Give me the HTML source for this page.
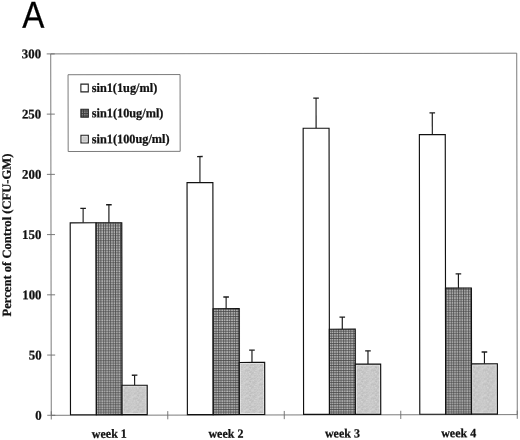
<!DOCTYPE html>
<html><head><meta charset="utf-8"><title>Figure A</title>
<style>
html,body{margin:0;padding:0;background:#fff;}
body{width:520px;height:440px;overflow:hidden;font-family:"Liberation Serif",serif;}
svg{display:block;will-change:transform;}
text{font-family:"Liberation Serif",serif;font-weight:bold;fill:#111;stroke:#111;stroke-width:0.25px;}
.sans{font-family:"Liberation Sans",sans-serif;font-weight:normal;fill:#000;stroke:#000;}
</style></head><body>
<svg width="520" height="440" viewBox="0 0 520 440">
<defs>
<filter id="soft" x="0" y="0" width="1" height="1"><feGaussianBlur stdDeviation="0.5"/></filter>
<pattern id="hatch" width="2.45" height="2.45" patternUnits="userSpaceOnUse">
<rect width="2.45" height="2.45" fill="#c6c6c6"/>
<rect width="0.9" height="2.45" fill="#484848"/>
<rect width="2.45" height="0.9" fill="#484848"/>
</pattern>
<pattern id="stip" width="14" height="14" patternUnits="userSpaceOnUse">
<rect width="14" height="14" fill="#c8c8c8"/>
<rect x="0" y="0" width="1" height="1" fill="#c0c0c0"/>
<rect x="0" y="1" width="1" height="1" fill="#cacaca"/>
<rect x="0" y="2" width="1" height="1" fill="#cdcdcd"/>
<rect x="0" y="3" width="1" height="1" fill="#c4c4c4"/>
<rect x="0" y="4" width="1" height="1" fill="#c0c0c0"/>
<rect x="0" y="5" width="1" height="1" fill="#c7c7c7"/>
<rect x="0" y="6" width="1" height="1" fill="#cacaca"/>
<rect x="0" y="7" width="1" height="1" fill="#cecece"/>
<rect x="0" y="8" width="1" height="1" fill="#c0c0c0"/>
<rect x="0" y="9" width="1" height="1" fill="#c0c0c0"/>
<rect x="0" y="10" width="1" height="1" fill="#cccccc"/>
<rect x="0" y="11" width="1" height="1" fill="#cacaca"/>
<rect x="0" y="12" width="1" height="1" fill="#d1d1d1"/>
<rect x="0" y="13" width="1" height="1" fill="#cdcdcd"/>
<rect x="1" y="0" width="1" height="1" fill="#c7c7c7"/>
<rect x="1" y="1" width="1" height="1" fill="#c6c6c6"/>
<rect x="1" y="2" width="1" height="1" fill="#d7d7d7"/>
<rect x="1" y="3" width="1" height="1" fill="#c6c6c6"/>
<rect x="1" y="4" width="1" height="1" fill="#c3c3c3"/>
<rect x="1" y="5" width="1" height="1" fill="#c1c1c1"/>
<rect x="1" y="6" width="1" height="1" fill="#c8c8c8"/>
<rect x="1" y="7" width="1" height="1" fill="#c8c8c8"/>
<rect x="1" y="8" width="1" height="1" fill="#c5c5c5"/>
<rect x="1" y="9" width="1" height="1" fill="#c7c7c7"/>
<rect x="1" y="10" width="1" height="1" fill="#c9c9c9"/>
<rect x="1" y="11" width="1" height="1" fill="#cccccc"/>
<rect x="1" y="12" width="1" height="1" fill="#cecece"/>
<rect x="1" y="13" width="1" height="1" fill="#c9c9c9"/>
<rect x="2" y="0" width="1" height="1" fill="#bdbdbd"/>
<rect x="2" y="1" width="1" height="1" fill="#cccccc"/>
<rect x="2" y="2" width="1" height="1" fill="#bfbfbf"/>
<rect x="2" y="3" width="1" height="1" fill="#c6c6c6"/>
<rect x="2" y="4" width="1" height="1" fill="#bfbfbf"/>
<rect x="2" y="5" width="1" height="1" fill="#c8c8c8"/>
<rect x="2" y="6" width="1" height="1" fill="#c3c3c3"/>
<rect x="2" y="7" width="1" height="1" fill="#c9c9c9"/>
<rect x="2" y="8" width="1" height="1" fill="#dbdbdb"/>
<rect x="2" y="9" width="1" height="1" fill="#c7c7c7"/>
<rect x="2" y="10" width="1" height="1" fill="#cdcdcd"/>
<rect x="2" y="11" width="1" height="1" fill="#c0c0c0"/>
<rect x="2" y="12" width="1" height="1" fill="#c6c6c6"/>
<rect x="2" y="13" width="1" height="1" fill="#cbcbcb"/>
<rect x="3" y="0" width="1" height="1" fill="#c7c7c7"/>
<rect x="3" y="1" width="1" height="1" fill="#cacaca"/>
<rect x="3" y="2" width="1" height="1" fill="#c8c8c8"/>
<rect x="3" y="3" width="1" height="1" fill="#c1c1c1"/>
<rect x="3" y="4" width="1" height="1" fill="#cbcbcb"/>
<rect x="3" y="5" width="1" height="1" fill="#c3c3c3"/>
<rect x="3" y="6" width="1" height="1" fill="#d3d3d3"/>
<rect x="3" y="7" width="1" height="1" fill="#c4c4c4"/>
<rect x="3" y="8" width="1" height="1" fill="#cccccc"/>
<rect x="3" y="9" width="1" height="1" fill="#c8c8c8"/>
<rect x="3" y="10" width="1" height="1" fill="#cdcdcd"/>
<rect x="3" y="11" width="1" height="1" fill="#c4c4c4"/>
<rect x="3" y="12" width="1" height="1" fill="#cdcdcd"/>
<rect x="3" y="13" width="1" height="1" fill="#c7c7c7"/>
<rect x="4" y="0" width="1" height="1" fill="#cfcfcf"/>
<rect x="4" y="1" width="1" height="1" fill="#cbcbcb"/>
<rect x="4" y="2" width="1" height="1" fill="#c8c8c8"/>
<rect x="4" y="3" width="1" height="1" fill="#c3c3c3"/>
<rect x="4" y="4" width="1" height="1" fill="#cccccc"/>
<rect x="4" y="5" width="1" height="1" fill="#cacaca"/>
<rect x="4" y="6" width="1" height="1" fill="#d1d1d1"/>
<rect x="4" y="7" width="1" height="1" fill="#c5c5c5"/>
<rect x="4" y="8" width="1" height="1" fill="#cbcbcb"/>
<rect x="4" y="9" width="1" height="1" fill="#cbcbcb"/>
<rect x="4" y="10" width="1" height="1" fill="#c9c9c9"/>
<rect x="4" y="11" width="1" height="1" fill="#c9c9c9"/>
<rect x="4" y="12" width="1" height="1" fill="#c9c9c9"/>
<rect x="4" y="13" width="1" height="1" fill="#c4c4c4"/>
<rect x="5" y="0" width="1" height="1" fill="#c1c1c1"/>
<rect x="5" y="1" width="1" height="1" fill="#c5c5c5"/>
<rect x="5" y="2" width="1" height="1" fill="#cbcbcb"/>
<rect x="5" y="3" width="1" height="1" fill="#d1d1d1"/>
<rect x="5" y="4" width="1" height="1" fill="#cdcdcd"/>
<rect x="5" y="5" width="1" height="1" fill="#cecece"/>
<rect x="5" y="6" width="1" height="1" fill="#cccccc"/>
<rect x="5" y="7" width="1" height="1" fill="#cccccc"/>
<rect x="5" y="8" width="1" height="1" fill="#c9c9c9"/>
<rect x="5" y="9" width="1" height="1" fill="#cccccc"/>
<rect x="5" y="10" width="1" height="1" fill="#d2d2d2"/>
<rect x="5" y="11" width="1" height="1" fill="#c6c6c6"/>
<rect x="5" y="12" width="1" height="1" fill="#c3c3c3"/>
<rect x="5" y="13" width="1" height="1" fill="#d3d3d3"/>
<rect x="6" y="0" width="1" height="1" fill="#c9c9c9"/>
<rect x="6" y="1" width="1" height="1" fill="#cdcdcd"/>
<rect x="6" y="2" width="1" height="1" fill="#cdcdcd"/>
<rect x="6" y="3" width="1" height="1" fill="#c1c1c1"/>
<rect x="6" y="4" width="1" height="1" fill="#d6d6d6"/>
<rect x="6" y="5" width="1" height="1" fill="#d2d2d2"/>
<rect x="6" y="6" width="1" height="1" fill="#c9c9c9"/>
<rect x="6" y="7" width="1" height="1" fill="#cccccc"/>
<rect x="6" y="8" width="1" height="1" fill="#c8c8c8"/>
<rect x="6" y="9" width="1" height="1" fill="#c2c2c2"/>
<rect x="6" y="10" width="1" height="1" fill="#c7c7c7"/>
<rect x="6" y="11" width="1" height="1" fill="#cacaca"/>
<rect x="6" y="12" width="1" height="1" fill="#cecece"/>
<rect x="6" y="13" width="1" height="1" fill="#cccccc"/>
<rect x="7" y="0" width="1" height="1" fill="#c8c8c8"/>
<rect x="7" y="1" width="1" height="1" fill="#d0d0d0"/>
<rect x="7" y="2" width="1" height="1" fill="#c3c3c3"/>
<rect x="7" y="3" width="1" height="1" fill="#cccccc"/>
<rect x="7" y="4" width="1" height="1" fill="#cecece"/>
<rect x="7" y="5" width="1" height="1" fill="#c6c6c6"/>
<rect x="7" y="6" width="1" height="1" fill="#bdbdbd"/>
<rect x="7" y="7" width="1" height="1" fill="#c2c2c2"/>
<rect x="7" y="8" width="1" height="1" fill="#c9c9c9"/>
<rect x="7" y="9" width="1" height="1" fill="#cbcbcb"/>
<rect x="7" y="10" width="1" height="1" fill="#d1d1d1"/>
<rect x="7" y="11" width="1" height="1" fill="#c1c1c1"/>
<rect x="7" y="12" width="1" height="1" fill="#c8c8c8"/>
<rect x="7" y="13" width="1" height="1" fill="#cbcbcb"/>
<rect x="8" y="0" width="1" height="1" fill="#c7c7c7"/>
<rect x="8" y="1" width="1" height="1" fill="#b9b9b9"/>
<rect x="8" y="2" width="1" height="1" fill="#cccccc"/>
<rect x="8" y="3" width="1" height="1" fill="#d5d5d5"/>
<rect x="8" y="4" width="1" height="1" fill="#cecece"/>
<rect x="8" y="5" width="1" height="1" fill="#c2c2c2"/>
<rect x="8" y="6" width="1" height="1" fill="#c5c5c5"/>
<rect x="8" y="7" width="1" height="1" fill="#c9c9c9"/>
<rect x="8" y="8" width="1" height="1" fill="#d6d6d6"/>
<rect x="8" y="9" width="1" height="1" fill="#cbcbcb"/>
<rect x="8" y="10" width="1" height="1" fill="#c8c8c8"/>
<rect x="8" y="11" width="1" height="1" fill="#d1d1d1"/>
<rect x="8" y="12" width="1" height="1" fill="#c7c7c7"/>
<rect x="8" y="13" width="1" height="1" fill="#d3d3d3"/>
<rect x="9" y="0" width="1" height="1" fill="#c3c3c3"/>
<rect x="9" y="1" width="1" height="1" fill="#c5c5c5"/>
<rect x="9" y="2" width="1" height="1" fill="#cccccc"/>
<rect x="9" y="3" width="1" height="1" fill="#d0d0d0"/>
<rect x="9" y="4" width="1" height="1" fill="#cbcbcb"/>
<rect x="9" y="5" width="1" height="1" fill="#c9c9c9"/>
<rect x="9" y="6" width="1" height="1" fill="#bdbdbd"/>
<rect x="9" y="7" width="1" height="1" fill="#c3c3c3"/>
<rect x="9" y="8" width="1" height="1" fill="#c4c4c4"/>
<rect x="9" y="9" width="1" height="1" fill="#c4c4c4"/>
<rect x="9" y="10" width="1" height="1" fill="#cbcbcb"/>
<rect x="9" y="11" width="1" height="1" fill="#c5c5c5"/>
<rect x="9" y="12" width="1" height="1" fill="#cccccc"/>
<rect x="9" y="13" width="1" height="1" fill="#c8c8c8"/>
<rect x="10" y="0" width="1" height="1" fill="#c6c6c6"/>
<rect x="10" y="1" width="1" height="1" fill="#c8c8c8"/>
<rect x="10" y="2" width="1" height="1" fill="#cacaca"/>
<rect x="10" y="3" width="1" height="1" fill="#cdcdcd"/>
<rect x="10" y="4" width="1" height="1" fill="#c5c5c5"/>
<rect x="10" y="5" width="1" height="1" fill="#c6c6c6"/>
<rect x="10" y="6" width="1" height="1" fill="#bfbfbf"/>
<rect x="10" y="7" width="1" height="1" fill="#d1d1d1"/>
<rect x="10" y="8" width="1" height="1" fill="#d0d0d0"/>
<rect x="10" y="9" width="1" height="1" fill="#c6c6c6"/>
<rect x="10" y="10" width="1" height="1" fill="#c5c5c5"/>
<rect x="10" y="11" width="1" height="1" fill="#c0c0c0"/>
<rect x="10" y="12" width="1" height="1" fill="#c9c9c9"/>
<rect x="10" y="13" width="1" height="1" fill="#c9c9c9"/>
<rect x="11" y="0" width="1" height="1" fill="#d5d5d5"/>
<rect x="11" y="1" width="1" height="1" fill="#c9c9c9"/>
<rect x="11" y="2" width="1" height="1" fill="#c3c3c3"/>
<rect x="11" y="3" width="1" height="1" fill="#b9b9b9"/>
<rect x="11" y="4" width="1" height="1" fill="#d0d0d0"/>
<rect x="11" y="5" width="1" height="1" fill="#c9c9c9"/>
<rect x="11" y="6" width="1" height="1" fill="#bebebe"/>
<rect x="11" y="7" width="1" height="1" fill="#c9c9c9"/>
<rect x="11" y="8" width="1" height="1" fill="#bebebe"/>
<rect x="11" y="9" width="1" height="1" fill="#dcdcdc"/>
<rect x="11" y="10" width="1" height="1" fill="#cecece"/>
<rect x="11" y="11" width="1" height="1" fill="#cbcbcb"/>
<rect x="11" y="12" width="1" height="1" fill="#c6c6c6"/>
<rect x="11" y="13" width="1" height="1" fill="#bbbbbb"/>
<rect x="12" y="0" width="1" height="1" fill="#c7c7c7"/>
<rect x="12" y="1" width="1" height="1" fill="#bebebe"/>
<rect x="12" y="2" width="1" height="1" fill="#cbcbcb"/>
<rect x="12" y="3" width="1" height="1" fill="#bbbbbb"/>
<rect x="12" y="4" width="1" height="1" fill="#c2c2c2"/>
<rect x="12" y="5" width="1" height="1" fill="#cfcfcf"/>
<rect x="12" y="6" width="1" height="1" fill="#d1d1d1"/>
<rect x="12" y="7" width="1" height="1" fill="#c0c0c0"/>
<rect x="12" y="8" width="1" height="1" fill="#bebebe"/>
<rect x="12" y="9" width="1" height="1" fill="#cdcdcd"/>
<rect x="12" y="10" width="1" height="1" fill="#cdcdcd"/>
<rect x="12" y="11" width="1" height="1" fill="#c2c2c2"/>
<rect x="12" y="12" width="1" height="1" fill="#c3c3c3"/>
<rect x="12" y="13" width="1" height="1" fill="#c3c3c3"/>
<rect x="13" y="0" width="1" height="1" fill="#c0c0c0"/>
<rect x="13" y="1" width="1" height="1" fill="#c3c3c3"/>
<rect x="13" y="2" width="1" height="1" fill="#cfcfcf"/>
<rect x="13" y="3" width="1" height="1" fill="#cccccc"/>
<rect x="13" y="4" width="1" height="1" fill="#d4d4d4"/>
<rect x="13" y="5" width="1" height="1" fill="#c7c7c7"/>
<rect x="13" y="6" width="1" height="1" fill="#c7c7c7"/>
<rect x="13" y="7" width="1" height="1" fill="#c2c2c2"/>
<rect x="13" y="8" width="1" height="1" fill="#c7c7c7"/>
<rect x="13" y="9" width="1" height="1" fill="#c0c0c0"/>
<rect x="13" y="10" width="1" height="1" fill="#bdbdbd"/>
<rect x="13" y="11" width="1" height="1" fill="#cccccc"/>
<rect x="13" y="12" width="1" height="1" fill="#d0d0d0"/>
<rect x="13" y="13" width="1" height="1" fill="#cdcdcd"/>
</pattern>
</defs>
<rect width="520" height="440" fill="#fff"/>
<g transform="rotate(-0.086 284 234.25)">

<text class="sans" transform="translate(22.6,27.3) scale(0.885,1)" font-size="37.5" stroke="#000" stroke-width="0.5">A</text>
<rect x="51.0" y="53.55" width="466.0" height="361.4" fill="none" stroke="#6c6c6c" stroke-width="0.9"/>
<line x1="47.0" x2="55.0" y1="414.95" y2="414.95" stroke="#6c6c6c" stroke-width="0.9"/>
<text transform="translate(41.4,419.35) scale(0.975,1)" font-size="13.2" text-anchor="end">0</text>
<line x1="47.0" x2="55.0" y1="354.72" y2="354.72" stroke="#6c6c6c" stroke-width="0.9"/>
<text transform="translate(41.4,359.12) scale(0.975,1)" font-size="13.2" text-anchor="end">50</text>
<line x1="47.0" x2="55.0" y1="294.48" y2="294.48" stroke="#6c6c6c" stroke-width="0.9"/>
<text transform="translate(41.4,298.88) scale(0.975,1)" font-size="13.2" text-anchor="end">100</text>
<line x1="47.0" x2="55.0" y1="234.25" y2="234.25" stroke="#6c6c6c" stroke-width="0.9"/>
<text transform="translate(41.4,238.65) scale(0.975,1)" font-size="13.2" text-anchor="end">150</text>
<line x1="47.0" x2="55.0" y1="174.02" y2="174.02" stroke="#6c6c6c" stroke-width="0.9"/>
<text transform="translate(41.4,178.42) scale(0.975,1)" font-size="13.2" text-anchor="end">200</text>
<line x1="47.0" x2="55.0" y1="113.78" y2="113.78" stroke="#6c6c6c" stroke-width="0.9"/>
<text transform="translate(41.4,118.18) scale(0.975,1)" font-size="13.2" text-anchor="end">250</text>
<line x1="47.0" x2="55.0" y1="53.55" y2="53.55" stroke="#6c6c6c" stroke-width="0.9"/>
<text transform="translate(41.4,57.95) scale(0.975,1)" font-size="13.2" text-anchor="end">300</text>
<line x1="51.00" x2="51.00" y1="410.95" y2="419.15" stroke="#6c6c6c" stroke-width="0.9"/>
<line x1="167.50" x2="167.50" y1="410.95" y2="419.15" stroke="#6c6c6c" stroke-width="0.9"/>
<line x1="284.00" x2="284.00" y1="410.95" y2="419.15" stroke="#6c6c6c" stroke-width="0.9"/>
<line x1="400.50" x2="400.50" y1="410.95" y2="419.15" stroke="#6c6c6c" stroke-width="0.9"/>
<line x1="517.00" x2="517.00" y1="410.95" y2="419.15" stroke="#6c6c6c" stroke-width="0.9"/>
<line x1="83.16" x2="83.16" y1="208.00" y2="222.50" stroke="#1c1c1c" stroke-width="1.15"/>
<line x1="80.36" x2="85.96" y1="208.00" y2="208.00" stroke="#1c1c1c" stroke-width="1.3"/>
<rect x="70.22" y="222.50" width="25.89" height="191.95" fill="#ffffff"/>
<rect x="70.22" y="222.50" width="25.89" height="191.95" fill="none" stroke="#111" stroke-width="1.15"/>
<line x1="108.95" x2="108.95" y1="204.50" y2="222.50" stroke="#1c1c1c" stroke-width="1.15"/>
<line x1="106.15" x2="111.75" y1="204.50" y2="204.50" stroke="#1c1c1c" stroke-width="1.3"/>
<rect x="96.11" y="222.50" width="25.69" height="191.95" fill="url(#hatch)" filter="url(#soft)"/>
<rect x="96.11" y="222.50" width="25.69" height="191.95" fill="none" stroke="#111" stroke-width="1.15"/>
<line x1="134.39" x2="134.39" y1="375.00" y2="385.00" stroke="#1c1c1c" stroke-width="1.15"/>
<line x1="131.59" x2="137.19" y1="375.00" y2="375.00" stroke="#1c1c1c" stroke-width="1.3"/>
<rect x="121.79" y="385.00" width="25.19" height="29.45" fill="url(#stip)"/>
<rect x="122.89" y="386.10" width="22.99" height="27.25" fill="none" stroke="#fff" stroke-opacity="0.45" stroke-width="1"/>
<rect x="121.79" y="385.00" width="25.19" height="29.45" fill="none" stroke="#111" stroke-width="1.15"/>
<text transform="translate(109.05,437.6) scale(0.955,1)" font-size="12.6" text-anchor="middle">week 1</text>
<line x1="200.04" x2="200.04" y1="156.40" y2="182.50" stroke="#1c1c1c" stroke-width="1.15"/>
<line x1="197.24" x2="202.84" y1="156.40" y2="156.40" stroke="#1c1c1c" stroke-width="1.3"/>
<rect x="187.12" y="182.50" width="25.84" height="231.95" fill="#ffffff"/>
<rect x="187.12" y="182.50" width="25.84" height="231.95" fill="none" stroke="#111" stroke-width="1.15"/>
<line x1="226.02" x2="226.02" y1="296.90" y2="308.60" stroke="#1c1c1c" stroke-width="1.15"/>
<line x1="223.22" x2="228.82" y1="296.90" y2="296.90" stroke="#1c1c1c" stroke-width="1.3"/>
<rect x="212.96" y="308.60" width="26.14" height="105.85" fill="url(#hatch)" filter="url(#soft)"/>
<rect x="212.96" y="308.60" width="26.14" height="105.85" fill="none" stroke="#111" stroke-width="1.15"/>
<line x1="251.79" x2="251.79" y1="350.10" y2="362.40" stroke="#1c1c1c" stroke-width="1.15"/>
<line x1="248.99" x2="254.59" y1="350.10" y2="350.10" stroke="#1c1c1c" stroke-width="1.3"/>
<rect x="239.09" y="362.40" width="25.39" height="52.05" fill="url(#stip)"/>
<rect x="240.19" y="363.50" width="23.19" height="49.85" fill="none" stroke="#fff" stroke-opacity="0.45" stroke-width="1"/>
<rect x="239.09" y="362.40" width="25.39" height="52.05" fill="none" stroke="#111" stroke-width="1.15"/>
<text transform="translate(225.65,437.6) scale(0.955,1)" font-size="12.6" text-anchor="middle">week 2</text>
<line x1="316.26" x2="316.26" y1="98.10" y2="128.30" stroke="#1c1c1c" stroke-width="1.15"/>
<line x1="313.46" x2="319.06" y1="98.10" y2="98.10" stroke="#1c1c1c" stroke-width="1.3"/>
<rect x="303.32" y="128.30" width="25.89" height="286.15" fill="#ffffff"/>
<rect x="303.32" y="128.30" width="25.89" height="286.15" fill="none" stroke="#111" stroke-width="1.15"/>
<line x1="342.15" x2="342.15" y1="317.20" y2="329.30" stroke="#1c1c1c" stroke-width="1.15"/>
<line x1="339.35" x2="344.95" y1="317.20" y2="317.20" stroke="#1c1c1c" stroke-width="1.3"/>
<rect x="329.21" y="329.30" width="25.89" height="85.15" fill="url(#hatch)" filter="url(#soft)"/>
<rect x="329.21" y="329.30" width="25.89" height="85.15" fill="none" stroke="#111" stroke-width="1.15"/>
<line x1="367.79" x2="367.79" y1="351.00" y2="364.20" stroke="#1c1c1c" stroke-width="1.15"/>
<line x1="364.99" x2="370.59" y1="351.00" y2="351.00" stroke="#1c1c1c" stroke-width="1.3"/>
<rect x="355.09" y="364.20" width="25.39" height="50.25" fill="url(#stip)"/>
<rect x="356.19" y="365.30" width="23.19" height="48.05" fill="none" stroke="#fff" stroke-opacity="0.45" stroke-width="1"/>
<rect x="355.09" y="364.20" width="25.39" height="50.25" fill="none" stroke="#111" stroke-width="1.15"/>
<text transform="translate(342.15,437.6) scale(0.955,1)" font-size="12.6" text-anchor="middle">week 3</text>
<line x1="432.46" x2="432.46" y1="113.10" y2="134.80" stroke="#1c1c1c" stroke-width="1.15"/>
<line x1="429.66" x2="435.26" y1="113.10" y2="113.10" stroke="#1c1c1c" stroke-width="1.3"/>
<rect x="419.52" y="134.80" width="25.89" height="279.65" fill="#ffffff"/>
<rect x="419.52" y="134.80" width="25.89" height="279.65" fill="none" stroke="#111" stroke-width="1.15"/>
<line x1="458.35" x2="458.35" y1="274.10" y2="288.30" stroke="#1c1c1c" stroke-width="1.15"/>
<line x1="455.55" x2="461.15" y1="274.10" y2="274.10" stroke="#1c1c1c" stroke-width="1.3"/>
<rect x="445.41" y="288.30" width="25.89" height="126.15" fill="url(#hatch)" filter="url(#soft)"/>
<rect x="445.41" y="288.30" width="25.89" height="126.15" fill="none" stroke="#111" stroke-width="1.15"/>
<line x1="484.24" x2="484.24" y1="352.30" y2="364.10" stroke="#1c1c1c" stroke-width="1.15"/>
<line x1="481.44" x2="487.04" y1="352.30" y2="352.30" stroke="#1c1c1c" stroke-width="1.3"/>
<rect x="471.29" y="364.10" width="25.89" height="50.35" fill="url(#stip)"/>
<rect x="472.39" y="365.20" width="23.69" height="48.15" fill="none" stroke="#fff" stroke-opacity="0.45" stroke-width="1"/>
<rect x="471.29" y="364.10" width="25.89" height="50.35" fill="none" stroke="#111" stroke-width="1.15"/>
<text transform="translate(458.35,437.6) scale(0.955,1)" font-size="12.6" text-anchor="middle">week 4</text>
<rect x="68.3" y="74.4" width="112.0" height="76.8" fill="#fff" stroke="#6c6c6c" stroke-width="0.9"/>
<rect x="81.1" y="83.8" width="7.4" height="7.8" fill="#ffffff" stroke="#222" stroke-width="1.1"/>
<text transform="translate(91.9,91.80) scale(0.953,1)" font-size="12.9">sin1(1ug/ml)</text>
<rect x="81.1" y="109.0" width="7.4" height="7.8" fill="url(#hatch)" stroke="#222" stroke-width="1.1"/>
<rect x="81.1" y="109.0" width="7.4" height="7.8" fill="#333" fill-opacity="0.4"/>
<text transform="translate(91.9,117.00) scale(0.953,1)" font-size="12.9">sin1(10ug/ml)</text>
<rect x="81.1" y="134.9" width="7.4" height="7.8" fill="url(#stip)" stroke="#222" stroke-width="1.1"/>
<rect x="82.3" y="136.1" width="5.0" height="5.4" fill="none" stroke="#fff" stroke-opacity="0.5" stroke-width="0.9"/>
<text transform="translate(91.9,142.90) scale(0.953,1)" font-size="12.9">sin1(100ug/ml)</text>
<text transform="translate(10.9,234.6) rotate(-90)" font-size="12.6" text-anchor="middle">Percent of Control (CFU-GM)</text>
</g></svg></body></html>
